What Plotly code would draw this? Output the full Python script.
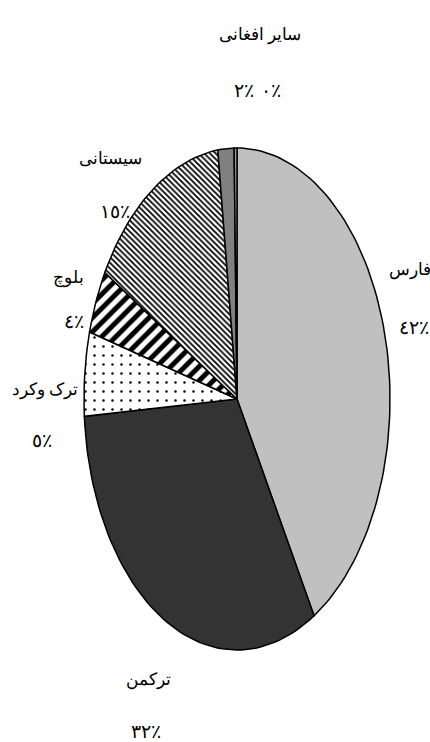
import numpy as np
import plotly.graph_objects as go

# slice data, clockwise from 12 o'clock
groups = ["فارس", "ترکمن", "ترک وکرد", "بلوچ", "سیستانی", "سایر", "افغانی"]
shares = [41.6, 32.3, 5.4, 4.1, 14.6, 1.7, 0.3]

# pie geometry in pixel units (plot area == window)
W, H = 430, 742
cx, cy = 237, 399
rx, ry = 153, 251

styles = [
    dict(fillcolor="#c0c0c0"),
    dict(fillcolor="#333333"),
    dict(fillcolor="white", fillpattern=dict(shape=".", fgcolor="black", bgcolor="white",
                                             fgopacity=1, size=9, solidity=0.06)),
    dict(fillcolor="white", fillpattern=dict(shape="/", fgcolor="black", bgcolor="white",
                                             fgopacity=1, size=10, solidity=0.5)),
    dict(fillcolor="white", fillpattern=dict(shape="\\", fgcolor="black", bgcolor="white",
                                             fgopacity=1, size=4, solidity=0.45)),
    dict(fillcolor="#808080"),
    dict(fillcolor="#a0a0a0"),
]

fig = go.Figure()
cum = np.concatenate([[0], np.cumsum(shares)]) / sum(shares) * 2 * np.pi
for i, name in enumerate(groups):
    t = np.linspace(cum[i], cum[i + 1], max(3, int(200 * shares[i] / 100) + 2))
    xs = np.concatenate([[cx], cx + rx * np.sin(t), [cx]])
    ys = np.concatenate([[cy], cy - ry * np.cos(t), [cy]])
    fig.add_trace(go.Scatter(x=xs, y=ys, mode="lines", fill="toself",
                             line=dict(color="black", width=1.5),
                             name=name, hoverinfo="name", showlegend=False,
                             **styles[i]))

# data labels: name and percent, placed as in the original
digits = str.maketrans("0123456789", "٠١٢٣٤٥٦٧٨٩")
def pct(v):
    return str(int(round(v))).translate(digits) + "٪"

name_pos = {"فارس": (410, 270), "ترکمن": (148, 680), "ترک وکرد": (45, 390),
            "بلوچ": (68, 278), "سیستانی": (110, 158)}
pct_pos = {"فارس": (414, 327), "ترکمن": (146, 731), "ترک وکرد": (42, 440),
           "بلوچ": (74, 321), "سیستانی": (115, 211), "سایر": (244, 90),
           "افغانی": (271, 90)}
font = dict(family="Liberation Serif, DejaVu Serif, serif", size=17, color="black")

for i, name in enumerate(groups):
    if name in name_pos:
        x, y = name_pos[name]
        fig.add_annotation(x=x, y=y, text=name, showarrow=False, font=font)
    x, y = pct_pos[name]
    fig.add_annotation(x=x, y=y, text=pct(shares[i]), showarrow=False,
                       font=dict(font, size=19))
# the two small slices share one title line
fig.add_annotation(x=260, y=35, text=groups[5] + " " + groups[6], showarrow=False, font=font)

fig.update_xaxes(range=[0, W], visible=False, fixedrange=True)
fig.update_yaxes(range=[H, 0], visible=False, fixedrange=True)
fig.update_layout(width=W, height=H, margin=dict(l=0, r=0, t=0, b=0),
                  plot_bgcolor="white", paper_bgcolor="white")
fig.write_html("out.html", config={"displayModeBar": False},
               post_script="document.body.style.margin='0';")
